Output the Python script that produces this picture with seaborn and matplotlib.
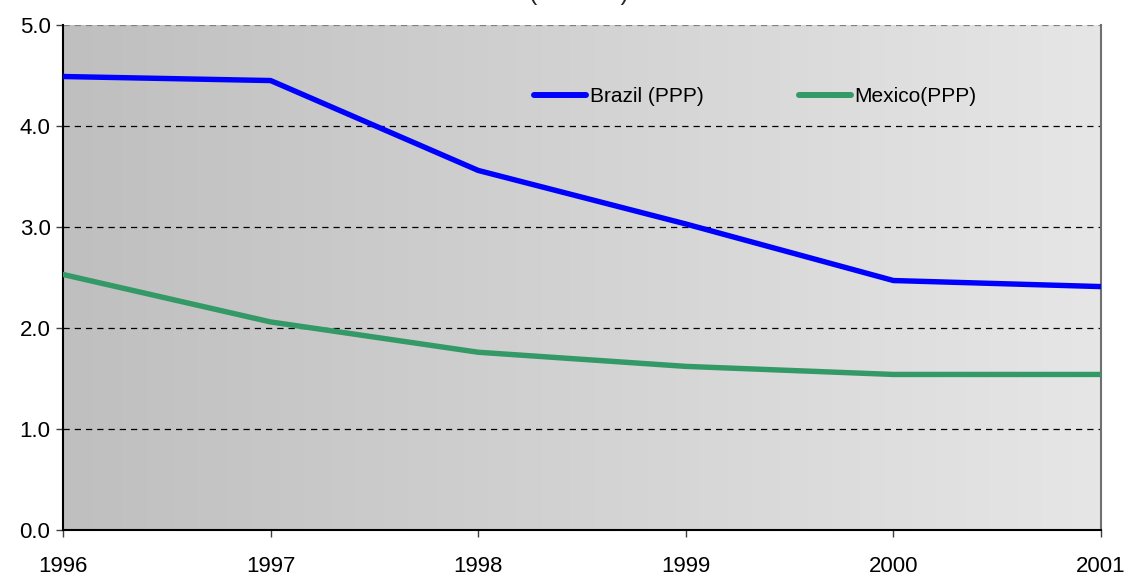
import numpy as np
import pandas as pd
import matplotlib
matplotlib.use("Agg")
import matplotlib.pyplot as plt
import seaborn as sns

# values
years = [1996, 1997, 1998, 1999, 2000, 2001]
brazil_ppp = [4.49, 4.45, 3.56, 3.03, 2.47, 2.41]
mexico_ppp = [2.53, 2.06, 1.76, 1.62, 1.54, 1.54]
series_names = ["Brazil (PPP)", "Mexico(PPP)"]
y_ticks = [0.0, 1.0, 2.0, 3.0, 4.0, 5.0]

df = pd.DataFrame({
    "year": years * 2,
    "value": brazil_ppp + mexico_ppp,
    "series": [series_names[0]] * len(years) + [series_names[1]] * len(years),
})

sns.set_style("ticks")
plt.rcParams["font.family"] = ["Liberation Sans", "DejaVu Sans"]

fig = plt.figure(figsize=(11.24, 5.77), dpi=100)
ax = fig.add_axes([63 / 1124, 47 / 577, 1038 / 1124, 505 / 577])

# grey gradient background, darker on the left
grad = np.linspace(0, 1, 256).reshape(1, -1)
ax.imshow(grad, extent=[years[0], years[-1], 0, 5], aspect="auto",
          cmap=matplotlib.colors.LinearSegmentedColormap.from_list("bg", ["#bfbfbf", "#e6e6e6"]),
          zorder=0, interpolation="bicubic")

for y in y_ticks[1:]:
    ax.axhline(y, color="black" if y < 5 else "#808080", lw=0.9, ls=(0, (5, 4)), zorder=1)

sns.lineplot(data=df, x="year", y="value", hue="series",
             palette={series_names[0]: "#0000ff", series_names[1]: "#339966"},
             lw=3.9, ax=ax, zorder=3, legend=True)

ax.set_xlim(years[0], years[-1])
ax.set_ylim(0, 5)
ax.set_xticks(years)
ax.set_yticks(y_ticks)
ax.set_yticklabels([f"{v:.1f}" for v in y_ticks])
ax.set_xlabel("")
ax.set_ylabel("")
ax.tick_params(axis="both", labelsize=16, labelcolor="black", direction="out",
               length=5, width=1, color="#404040")
ax.tick_params(axis="x", pad=14)
ax.tick_params(axis="y", pad=4)

for side in ["left", "bottom"]:
    ax.spines[side].set_color("black")
    ax.spines[side].set_linewidth(1.5)
ax.spines["right"].set_visible(True)
ax.spines["right"].set_color("#707070")
ax.spines["right"].set_linewidth(1.5)
ax.spines["top"].set_visible(False)

leg = ax.legend(loc="center left", bbox_to_anchor=(0.436, 0.858), ncol=2, frameon=False,
                fontsize=15, handlelength=2.5, handletextpad=0.15, columnspacing=4.6)
for line in leg.get_lines():
    line.set_linewidth(4.3)
for t in leg.get_texts():
    t.set_color("black")

# title cut off at the top of the image
fig.text(0.515, 1.012, "(% GDP)", ha="center", va="center", fontsize=18)

fig.savefig("out.png", dpi=100)
